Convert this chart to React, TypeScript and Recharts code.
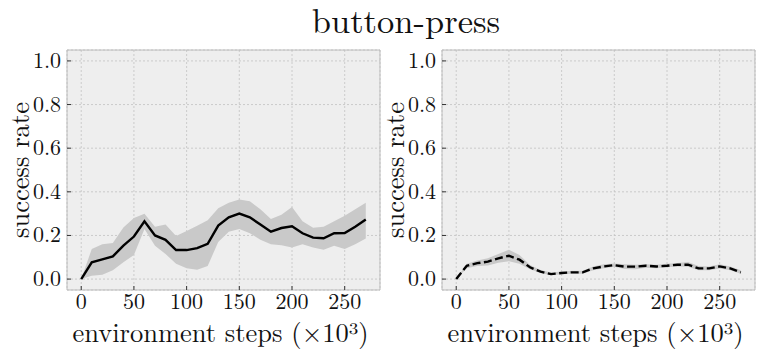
import {
  ComposedChart,
  Line,
  Area,
  XAxis,
  YAxis,
  CartesianGrid,
  ReferenceArea,
  Label,
} from "recharts";

const steps = [
  0, 10, 20, 30, 40, 50, 60, 70, 80, 90, 100, 110, 120, 130, 140, 150, 160,
  170, 180, 190, 200, 210, 220, 230, 240, 250, 260, 270,
];

// left panel (solid line)
const leftMean = [
  0, 0.077, 0.09, 0.104, 0.153, 0.195, 0.265, 0.2, 0.18, 0.133, 0.133, 0.142,
  0.162, 0.245, 0.283, 0.3, 0.283, 0.25, 0.217, 0.234, 0.242, 0.21, 0.19,
  0.187, 0.21, 0.211, 0.24, 0.273,
];
const leftUpper = [
  0, 0.138, 0.16, 0.165, 0.237, 0.28, 0.3, 0.24, 0.25, 0.197, 0.22, 0.245,
  0.27, 0.325, 0.35, 0.365, 0.357, 0.32, 0.275, 0.295, 0.33, 0.265, 0.235,
  0.24, 0.265, 0.29, 0.32, 0.35,
];
const leftLower = [
  0, 0.015, 0.02, 0.04, 0.077, 0.11, 0.23, 0.153, 0.115, 0.07, 0.05, 0.043,
  0.06, 0.17, 0.217, 0.23, 0.21, 0.18, 0.16, 0.155, 0.145, 0.16, 0.145, 0.135,
  0.153, 0.138, 0.16, 0.186,
];

// right panel (dashed line)
const rightMean = [
  0, 0.061, 0.073, 0.08, 0.095, 0.107, 0.089, 0.054, 0.034, 0.023, 0.028,
  0.031, 0.031, 0.049, 0.058, 0.064, 0.057, 0.057, 0.061, 0.058, 0.061, 0.066,
  0.066, 0.049, 0.049, 0.058, 0.049, 0.031,
];
const rightUpper = [
  0, 0.07, 0.085, 0.095, 0.115, 0.135, 0.11, 0.065, 0.042, 0.03, 0.035, 0.038,
  0.038, 0.058, 0.068, 0.072, 0.068, 0.066, 0.068, 0.066, 0.07, 0.074, 0.078,
  0.06, 0.058, 0.068, 0.058, 0.04,
];
const rightLower = [
  0, 0.05, 0.06, 0.062, 0.075, 0.082, 0.07, 0.045, 0.028, 0.018, 0.022, 0.025,
  0.025, 0.04, 0.05, 0.056, 0.046, 0.045, 0.052, 0.05, 0.054, 0.058, 0.056,
  0.04, 0.04, 0.048, 0.04, 0.025,
];

const xTicks = [0, 50, 100, 150, 200, 250];
const yTicks = [0, 0.2, 0.4, 0.6, 0.8, 1.0];

const title = "button-press";
const xLabel = "environment steps (×10³)";
const yLabel = "success rate";

const FONT = '"Latin Modern Roman", "Liberation Serif", serif';

type Row = { step: number; mean: number; band: [number, number] };

const buildRows = (mean: number[], lower: number[], upper: number[]): Row[] =>
  steps.map((s, i) => ({ step: s, mean: mean[i], band: [lower[i], upper[i]] }));

const XTick = (props: any) => {
  const { x, y, payload } = props;
  return (
    <g>
      <line x1={x} x2={x} y1={y} y2={y - 4} stroke="#333" strokeWidth={1} />
      <text
        x={x}
        y={y + 19}
        textAnchor="middle"
        style={{ fontFamily: FONT, fontSize: 22 }}
        fill="#111"
      >
        {payload.value}
      </text>
    </g>
  );
};

const YTick = (props: any) => {
  const { x, y, payload } = props;
  return (
    <g>
      <line x1={x} x2={x + 4} y1={y} y2={y} stroke="#333" strokeWidth={1} />
      <text
        x={x - 6}
        y={y + 7}
        textAnchor="end"
        style={{ fontFamily: FONT, fontSize: 22 }}
        fill="#111"
      >
        {Number(payload.value).toFixed(1)}
      </text>
    </g>
  );
};

const Panel = ({ data, dashed }: { data: Row[]; dashed?: boolean }) => (
  <ComposedChart
    width={381}
    height={355}
    data={data}
    margin={{ top: 50, right: 1, left: 0, bottom: 0 }}
  >
    <CartesianGrid
      fill="#eeeeee"
      stroke="#c2c2c2"
      strokeDasharray="2 2"
      strokeWidth={0.8}
    />
    <XAxis
      dataKey="step"
      type="number"
      domain={[-13.5, 283.5]}
      ticks={xTicks}
      allowDataOverflow
      height={65}
      axisLine={false}
      tickLine={false}
      tickSize={0}
      tickMargin={0}
      tick={<XTick />}
    >
      <Label
        content={(p: any) => {
          const vb = p.viewBox;
          return (
            <text
              x={vb.x + vb.width / 2 - 3}
              y={vb.y + 52}
              textAnchor="middle"
              style={{ fontFamily: FONT, fontSize: 26.5 }}
              fill="#111"
            >
              {xLabel}
            </text>
          );
        }}
      />
    </XAxis>
    <YAxis
      type="number"
      domain={[-0.05, 1.05]}
      ticks={yTicks}
      allowDataOverflow
      width={67}
      axisLine={false}
      tickLine={false}
      tickSize={0}
      tickMargin={0}
      tick={<YTick />}
    >
      <Label
        content={(p: any) => {
          const vb = p.viewBox;
          const cx = vb.x + vb.width - 38;
          const cy = vb.y + vb.height / 2;
          return (
            <text
              x={cx}
              y={cy}
              transform={`rotate(-90, ${cx}, ${cy})`}
              textAnchor="middle"
              style={{ fontFamily: FONT, fontSize: 26.5 }}
              fill="#111"
            >
              {yLabel}
            </text>
          );
        }}
      />
    </YAxis>
    <Area
      dataKey="band"
      type="linear"
      stroke="none"
      fill="#c9c9c9"
      fillOpacity={1}
      isAnimationActive={false}
    />
    <Line
      dataKey="mean"
      type="linear"
      stroke="#000"
      strokeWidth={2.4}
      strokeDasharray={dashed ? "8 3.5" : undefined}
      dot={false}
      isAnimationActive={false}
    />
    <ReferenceArea
      x1={-13.5}
      x2={283.5}
      y1={-0.05}
      y2={1.05}
      fill="none"
      stroke="#bcbcbc"
      strokeWidth={1}
      ifOverflow="visible"
    />
  </ComposedChart>
);

export default function App() {
  const leftData = buildRows(leftMean, leftLower, leftUpper);
  const rightData = buildRows(rightMean, rightLower, rightUpper);
  return (
    <div
      style={{
        position: "absolute",
        left: 0,
        top: 0,
        width: 761,
        height: 355,
        background: "#fff",
        overflow: "hidden",
      }}
    >
      <svg
        width={761}
        height={48}
        style={{ position: "absolute", left: 0, top: 0 }}
      >
        <text
          x={406}
          y={33}
          textAnchor="middle"
          style={{ fontFamily: FONT, fontSize: 34.5 }}
          fill="#111"
        >
          {title}
        </text>
      </svg>
      <div style={{ position: "absolute", left: 0, top: 0 }}>
        <Panel data={leftData} />
      </div>
      <div style={{ position: "absolute", left: 375, top: 0 }}>
        <Panel data={rightData} dashed />
      </div>
    </div>
  );
}
